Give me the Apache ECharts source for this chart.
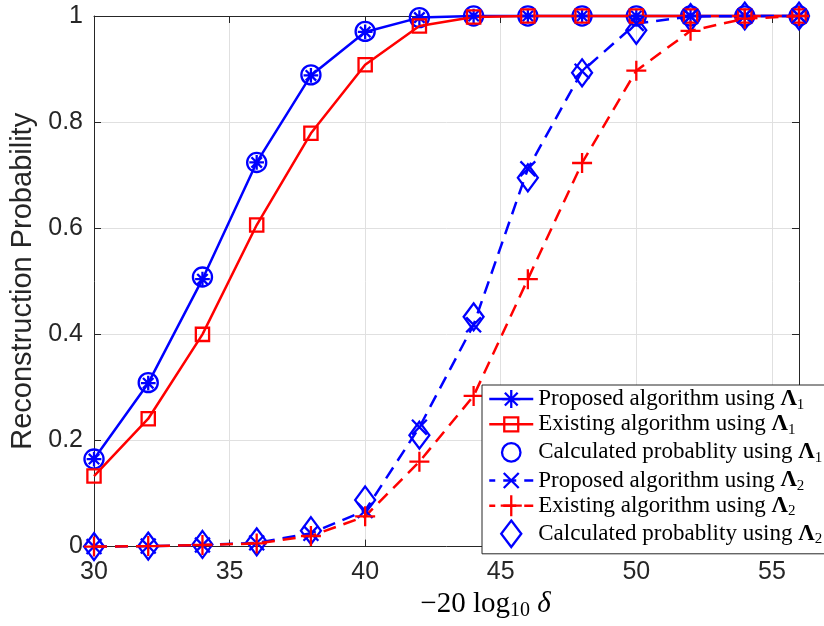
<!DOCTYPE html>
<html>
<head>
<meta charset="utf-8">
<script src="https://cdn.jsdelivr.net/npm/echarts@6/dist/echarts.min.js"></script>
<style>html,body{margin:0;padding:0;background:#fff;}#c{width:824px;height:626px;}</style>
</head>
<body>
<div id="c"></div>
<script>
// ---- data ----
const xValues = [30, 32, 34, 36, 38, 40, 42, 44, 46, 48, 50, 52, 54, 56];
const proposedL1 = [0.165, 0.308, 0.504, 0.724, 0.888, 0.970, 0.997, 1, 1, 1, 1, 1, 1, 1];
const existingL1 = [0.133, 0.241, 0.400, 0.606, 0.779, 0.908, 0.981, 0.998, 1, 1, 1, 1, 1, 1];
const calculatedL1 = [0.165, 0.309, 0.508, 0.724, 0.889, 0.971, 0.997, 1, 1, 1, 1, 1, 1, 1];
const proposedL2 = [0.000, 0.001, 0.003, 0.007, 0.025, 0.068, 0.225, 0.418, 0.712, 0.896, 0.986, 0.999, 1, 1];
const existingL2 = [0.000, 0.001, 0.003, 0.006, 0.020, 0.057, 0.160, 0.284, 0.504, 0.723, 0.897, 0.972, 0.995, 1];
const calculatedL2 = [0.000, 0.001, 0.004, 0.009, 0.030, 0.088, 0.210, 0.433, 0.695, 0.893, 0.973, 0.997, 1, 1];
const seriesNames = [
  'Proposed algorithm using Λ1',
  'Existing algorithm using Λ1',
  'Calculated probablity using Λ1',
  'Proposed algorithm using Λ2',
  'Existing algorithm using Λ2',
  'Calculated probablity using Λ2'
];
const legendLabels = [
  ['Proposed algorithm using ', '1'],
  ['Existing algorithm using ', '1'],
  ['Calculated probablity using ', '1'],
  ['Proposed algorithm using ', '2'],
  ['Existing algorithm using ', '2'],
  ['Calculated probablity using ', '2']
];
const xTicks = { min: 30, max: 56, interval: 5 };
const yTicks = { min: 0, max: 1, interval: 0.2 };

// ---- styles ----
const BLUE = '#0000ff', RED = '#ff0000', AXIS = '#262626';
function padded(body, px, py) { return 'path://M' + (-px) + ',' + (-py) + 'M' + px + ',' + py + body; }
const SYM_AST = padded('M0,-1L0,1M-1,0L1,0M-0.71,-0.71L0.71,0.71M-0.71,0.71L0.71,-0.71', 1.29, 1.29);
const SYM_SQ = padded('M-1,-1L1,-1L1,1L-1,1Z', 1.66, 1.66);
const SYM_CIR = padded('M1,0A1,1,0,1,1,-1,0A1,1,0,1,1,1,0Z', 1.57, 1.57);
const SYM_X = padded('M-1,-1L1,1M-1,1L1,-1', 1.55, 1.55);
const SYM_PLUS = padded('M0,-1L0,1M-1,0L1,0', 1.1, 1.1);
const SYM_DIA = padded('M0,-1.32L1,0L0,1.32L-1,0Z', 1, 1.445);
const LW = 2.5, MW = 2.3;
const DASH = [13, 8];

function pairs(arr) { return xValues.map((x, i) => [x, arr[i]]); }
function lineSeries(i, arr, color, dashed, sym, size) {
  return {
    type: 'line', name: seriesNames[i], data: pairs(arr), clip: false,
    symbol: sym, symbolSize: size, showAllSymbol: true,
    lineStyle: { color: color, width: LW, type: dashed ? DASH : 'solid' },
    itemStyle: { color: 'none', borderColor: color, borderWidth: MW },
    emphasis: { disabled: true }, animation: false
  };
}
function scatterSeries(i, arr, color, sym, size) {
  return {
    type: 'scatter', name: seriesNames[i], data: pairs(arr), clip: false,
    symbol: sym, symbolSize: size,
    itemStyle: { color: 'none', borderColor: color, borderWidth: MW, opacity: 1 },
    emphasis: { disabled: true }, animation: false
  };
}

const chart = echarts.init(document.getElementById('c'), null, { renderer: 'canvas' });
const serif = 'Liberation Serif';
const legendColors = [BLUE, RED, BLUE, BLUE, RED, BLUE];
const legendDashed = [false, false, false, true, true, false];

chart.setOption({
  animation: false,
  backgroundColor: '#fff',
  textStyle: { fontFamily: 'Liberation Sans' },
  grid: { left: 94, right: 25, top: 16, bottom: 72, containLabel: false },
  xAxis: [{
    type: 'value', min: xTicks.min, max: xTicks.max, interval: xTicks.interval,
    position: 'bottom',
    name: '{n|−20}{g| log}{s|10}{d| δ}',
    nameLocation: 'middle', nameGap: 30,
    nameTextStyle: {
      padding: [0, 0, 0, 78],
      rich: {
        n: { fontFamily: serif, fontSize: 29, lineHeight: 34, color: '#000' },
        g: { fontFamily: serif, fontSize: 29, lineHeight: 34, color: '#000' },
        s: { fontFamily: serif, fontSize: 20, lineHeight: 12, verticalAlign: 'bottom', color: '#000' },
        d: { fontFamily: serif, fontSize: 29, lineHeight: 34, fontStyle: 'italic', color: '#000' }
      }
    },
    axisLine: { show: true, onZero: false, lineStyle: { color: AXIS, width: 1 } },
    axisTick: { show: true, inside: true, length: 7, lineStyle: { color: AXIS } },
    axisLabel: {
      show: true, margin: 13, fontSize: 25, color: AXIS, fontFamily: 'Liberation Sans',
      formatter: v => (v % 5 === 0 ? String(v) : '')
    },
    splitLine: { show: true, lineStyle: { color: '#e0e0e0', width: 1 } }
  }, {
    type: 'value', min: xTicks.min, max: xTicks.max, interval: xTicks.interval,
    position: 'top',
    axisLine: { show: true, onZero: false, lineStyle: { color: AXIS, width: 1 } },
    axisTick: { show: true, inside: true, length: 7, lineStyle: { color: AXIS } },
    axisLabel: { show: false },
    splitLine: { show: false }
  }],
  yAxis: [{
    type: 'value', min: yTicks.min, max: yTicks.max, interval: yTicks.interval,
    position: 'left',
    name: 'Reconstruction Probability',
    nameLocation: 'middle', nameGap: 50, nameRotate: 90,
    nameTextStyle: { fontSize: 29, color: AXIS, fontFamily: 'Liberation Sans' },
    axisLine: { show: true, onZero: false, lineStyle: { color: AXIS, width: 1 } },
    axisTick: { show: true, inside: true, length: 7, lineStyle: { color: AXIS } },
    axisLabel: {
      show: true, margin: 11, fontSize: 25, color: AXIS, fontFamily: 'Liberation Sans',
      formatter: v => (Math.abs(v) < 1e-9 ? '0' : Math.abs(v - 1) < 1e-9 ? '1' : v.toFixed(1))
    },
    splitLine: { show: true, lineStyle: { color: '#e0e0e0', width: 1 } }
  }, {
    type: 'value', min: yTicks.min, max: yTicks.max, interval: yTicks.interval,
    position: 'right',
    axisLine: { show: true, onZero: false, lineStyle: { color: AXIS, width: 1 } },
    axisTick: { show: true, inside: true, length: 7, lineStyle: { color: AXIS } },
    axisLabel: { show: false },
    splitLine: { show: false }
  }],
  legend: {
    show: true, orient: 'vertical', left: 482, top: 385,
    itemWidth: 44, itemHeight: 29, itemGap: -3,
    padding: [0, 8, 3, 6],
    backgroundColor: '#fff', borderColor: AXIS, borderWidth: 1, borderRadius: 0,
    selectedMode: false,
    textStyle: {
      fontFamily: serif, fontSize: 23, color: '#000',
      rich: {
        n: { fontFamily: serif, fontSize: 23, lineHeight: 26, color: '#000' },
        b: { fontFamily: serif, fontSize: 23, lineHeight: 26, fontWeight: 'bold', color: '#000' },
        s: { fontFamily: serif, fontSize: 15, lineHeight: 17, verticalAlign: 'bottom', color: '#000' }
      }
    },
    formatter: function (name) {
      const i = seriesNames.indexOf(name);
      const l = legendLabels[i];
      return '{n|' + l[0] + '}{b|Λ}{s|' + l[1] + '}';
    },
    data: seriesNames.map((n, i) => ({
      name: n,
      itemStyle: { color: 'none', borderColor: legendColors[i], borderWidth: MW, opacity: 1 },
      lineStyle: { color: legendColors[i], width: (i === 2 || i === 5) ? 0 : LW, type: legendDashed[i] ? DASH : 'solid', dashOffset: 7, opacity: 1 }
    }))
  },
  series: [
    lineSeries(0, proposedL1, BLUE, false, SYM_AST, 19),
    lineSeries(1, existingL1, RED, false, SYM_SQ, 22),
    scatterSeries(2, calculatedL1, BLUE, SYM_CIR, 30),
    lineSeries(3, proposedL2, BLUE, true, SYM_X, 23),
    lineSeries(4, existingL2, RED, true, SYM_PLUS, 22),
    scatterSeries(5, calculatedL2, BLUE, SYM_DIA, [20, 29.5])
  ]
});
</script>
</body>
</html>
